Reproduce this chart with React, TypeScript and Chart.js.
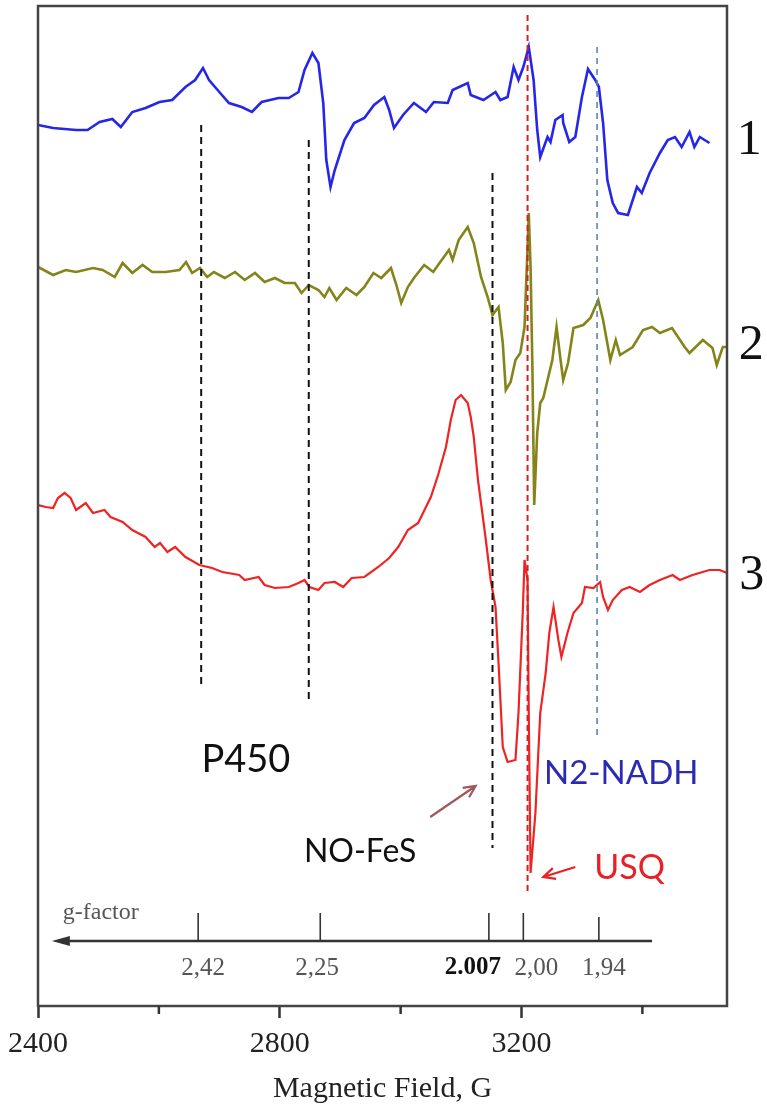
import React, { useEffect, useRef } from 'react';
import { Chart, registerables } from 'chart.js';

Chart.register(...registerables);

// ---- Spectrum 1 (blue) : field (G) / signal (a.u., stacked offset) ----
const blueField = [2400, 2425, 2463, 2482, 2502, 2523, 2537, 2556, 2578, 2601, 2622, 2644, 2660, 2673, 2683, 2700, 2716, 2737, 2754, 2770, 2798, 2815, 2831, 2841, 2854, 2864, 2872, 2877, 2884, 2891, 2907, 2923, 2940, 2956, 2973, 2981, 2989, 3004, 3022, 3042, 3055, 3078, 3086, 3111, 3116, 3137, 3157, 3165, 3177, 3187, 3195, 3203, 3212, 3220, 3226, 3231, 3243, 3248, 3256, 3268, 3269, 3279, 3289, 3300, 3310, 3322, 3328, 3335, 3342, 3351, 3360, 3376, 3391, 3399, 3412, 3429, 3442, 3454, 3465, 3478, 3486, 3495, 3511];
const blueSignal = [88.1, 87.8, 87.6, 87.6, 88.4, 88.7, 87.9, 89.4, 89.8, 90.4, 90.6, 91.9, 92.6, 93.8, 92.6, 91.4, 90.3, 89.9, 89.4, 90.4, 90.8, 90.8, 91.4, 93.6, 95.3, 94.3, 90.3, 84.6, 81.9, 83.6, 86.6, 88.3, 88.8, 90.1, 90.9, 89.6, 87.8, 89.1, 90.3, 89.4, 90.4, 90.3, 91.6, 92.3, 91.1, 90.6, 91.4, 90.6, 90.9, 93.9, 92.6, 93.9, 95.9, 92.6, 87.6, 84.9, 86.9, 86.4, 88.6, 89.1, 88.3, 86.4, 86.9, 90.9, 93.7, 92.6, 91.9, 88.3, 82.6, 80.3, 79.3, 79.1, 81.9, 81.3, 83.3, 85.3, 86.6, 86.9, 85.9, 87.4, 85.9, 86.9, 86.3];

// ---- Spectrum 2 (olive) ----
const oliveField = [2400, 2425, 2446, 2463, 2491, 2507, 2527, 2540, 2556, 2573, 2589, 2611, 2634, 2645, 2655, 2668, 2680, 2691, 2709, 2726, 2742, 2759, 2775, 2792, 2808, 2825, 2836, 2848, 2864, 2874, 2882, 2894, 2910, 2927, 2940, 2955, 2968, 2984, 2993, 3001, 3012, 3022, 3039, 3054, 3062, 3080, 3086, 3096, 3111, 3121, 3133, 3144, 3152, 3162, 3169, 3174, 3182, 3190, 3198, 3205, 3210, 3212, 3215, 3218, 3221, 3226, 3231, 3236, 3251, 3258, 3264, 3269, 3277, 3286, 3302, 3314, 3327, 3335, 3347, 3356, 3363, 3384, 3401, 3416, 3429, 3449, 3470, 3478, 3500, 3516, 3523, 3533, 3540];
const oliveSignal = [73.9, 73.1, 73.6, 73.4, 73.8, 73.6, 72.9, 74.3, 73.3, 74.1, 73.4, 73.4, 73.6, 74.4, 73.3, 73.8, 72.9, 73.4, 72.8, 73.4, 72.6, 73.3, 72.4, 72.8, 72.3, 72.3, 71.3, 72.1, 71.6, 70.9, 71.8, 70.6, 71.8, 71.1, 71.9, 73.3, 72.8, 73.8, 72.1, 70.3, 71.9, 72.8, 74.1, 73.4, 74.1, 75.6, 74.6, 76.6, 77.9, 76.3, 72.9, 70.9, 69.1, 69.9, 66.3, 61.6, 62.4, 64.6, 65.3, 67.9, 75.9, 79.3, 73.9, 63.9, 50.1, 57.3, 60.3, 60.8, 64.6, 67.9, 64.9, 62.6, 64.3, 67.8, 68.1, 68.8, 70.6, 68.6, 64.6, 66.6, 65.1, 65.9, 67.6, 67.9, 67.3, 67.8, 65.9, 65.3, 66.6, 65.8, 64.1, 65.9, 65.9];

// ---- Spectrum 3 (red) ----
const redField = [2400, 2413, 2425, 2433, 2444, 2454, 2463, 2479, 2491, 2510, 2520, 2540, 2556, 2578, 2593, 2602, 2614, 2627, 2644, 2667, 2688, 2705, 2733, 2742, 2765, 2775, 2792, 2815, 2831, 2841, 2849, 2864, 2874, 2891, 2905, 2919, 2940, 2963, 2981, 2996, 3012, 3029, 3050, 3062, 3075, 3083, 3091, 3100, 3111, 3116, 3121, 3128, 3141, 3149, 3157, 3162, 3169, 3177, 3190, 3195, 3202, 3205, 3210, 3212, 3215, 3223, 3231, 3240, 3246, 3253, 3261, 3266, 3276, 3286, 3300, 3305, 3319, 3330, 3335, 3343, 3351, 3366, 3379, 3396, 3412, 3429, 3450, 3462, 3483, 3511, 3528, 3540];
const redSignal = [50.1, 49.9, 49.8, 50.8, 51.3, 50.8, 49.6, 50.3, 49.3, 49.6, 48.9, 48.4, 47.6, 46.9, 45.9, 46.3, 45.4, 45.9, 44.9, 44.1, 43.8, 43.4, 43.1, 42.6, 42.9, 42.1, 41.8, 41.9, 42.3, 42.6, 41.9, 41.6, 42.3, 42.4, 41.9, 42.8, 42.9, 43.9, 44.8, 45.9, 47.6, 48.3, 50.9, 53.1, 55.9, 58.6, 60.6, 61.1, 60.3, 58.9, 56.9, 52.6, 46.6, 42.6, 39.9, 34.3, 25.9, 24.4, 24.6, 29.3, 39.3, 44.6, 42.6, 29.3, 13.3, 19.3, 29.3, 33.3, 37.3, 39.9, 36.6, 34.9, 37.3, 39.3, 40.3, 41.9, 41.8, 42.4, 40.9, 39.6, 40.6, 41.6, 41.9, 41.4, 42.1, 42.6, 43.1, 42.6, 43.1, 43.6, 43.6, 43.3];

// ---- Dashed marker lines (field, top, bottom) ----
const markerFields = [2670, 2848, 3152, 3210, 3325];
const markerTops = [88.1, 86.6, 83.3, 99.1, 95.9];
const markerBottoms = [31.8, 30.3, 15.8, 11.1, 26.8];

// ---- g-factor scale drawn inside the plot ----
const gTickFields = [2665, 2867, 3146, 3203, 3328];
const gTickLabels = ['2,42', '2,25', '2.007', '2,00', '1,94'];
const gAxisRange = [2423, 3416];
const gAxisLevel = 6.5;
const gTickTop = 9.3;

// ---- x axis ----
const xMin = 2400;
const xMax = 3540;
const xMajorTicks = [2400, 2800, 3200];
const xMinorTicks = [2600, 3000, 3400];

const SERIF = '"Liberation Serif", "Times New Roman", serif';
const SANS = 'Lato, "Open Sans", sans-serif';

export default function App() {
  const ref = useRef<HTMLCanvasElement>(null);

  useEffect(() => {
    document.body.style.margin = '0';
    const canvas = ref.current;
    if (!canvas) return;
    const pts = (f: number[], s: number[]) => f.map((x, i) => ({ x, y: s[i] }));

    const markerColors = ['#111111', '#111111', '#111111', '#d42020', '#5b87ad'];
    const markerWidths = [2, 2, 2, 2, 1.6];
    const markerDash = [[7, 5], [7, 5], [7, 5], [6, 4], [6, 5]];

    const datasets: any[] = [];
    markerFields.forEach((f, i) => {
      datasets.push({
        data: [{ x: f, y: markerTops[i] }, { x: f, y: markerBottoms[i] }],
        borderColor: markerColors[i],
        borderWidth: markerWidths[i],
        borderDash: markerDash[i],
        pointRadius: 0,
        order: 0,
      });
    });
    // g-factor axis line and ticks
    datasets.push({
      data: [{ x: gAxisRange[0] + 10, y: gAxisLevel }, { x: gAxisRange[1], y: gAxisLevel }],
      borderColor: '#333333',
      borderWidth: 2.6,
      pointRadius: 0,
      order: 0,
    });
    gTickFields.forEach((f, i) => {
      datasets.push({
        data: [{ x: f, y: gAxisLevel }, { x: f, y: i === 4 ? gTickTop - 0.4 : gTickTop }],
        borderColor: '#333333',
        borderWidth: 1.6,
        pointRadius: 0,
        order: 0,
      });
    });
    datasets.push({ data: pts(blueField, blueSignal), borderColor: '#2626e8', borderWidth: 2.6, pointRadius: 0, tension: 0, order: 2 });
    datasets.push({ data: pts(oliveField, oliveSignal), borderColor: '#84841a', borderWidth: 2.6, pointRadius: 0, tension: 0, order: 1 });
    datasets.push({ data: pts(redField, redSignal), borderColor: '#ee2424', borderWidth: 2.2, pointRadius: 0, tension: 0, order: 2 });

    const overlay = {
      id: 'overlay',
      afterDraw(chart: any) {
        const c = chart.ctx;
        const xs = chart.scales.x;
        const ys = chart.scales.y;
        const X = (v: number) => xs.getPixelForValue(v);
        const Y = (v: number) => ys.getPixelForValue(v);
        const area = chart.chartArea;
        c.save();
        // frame
        c.strokeStyle = '#444444';
        c.lineWidth = 2.5;
        c.strokeRect(area.left, area.top, area.right - area.left, area.bottom - area.top);
        // minor x ticks
        c.strokeStyle = '#333333';
        c.lineWidth = 2.5;
        xMinorTicks.forEach((t) => {
          const px = X(t);
          c.beginPath();
          c.moveTo(px, area.bottom);
          c.lineTo(px, area.bottom + 8);
          c.stroke();
        });
        // arrow head of g-factor axis
        const tipX = X(gAxisRange[0]);
        const tipY = Y(gAxisLevel);
        c.fillStyle = '#333333';
        c.beginPath();
        c.moveTo(tipX, tipY);
        c.lineTo(tipX + 18, tipY - 5);
        c.lineTo(tipX + 18, tipY + 5);
        c.closePath();
        c.fill();

        const text = (s: string, g: number, v: number, font: string, color: string, align: CanvasTextAlign = 'center', dx = 0) => {
          c.font = font;
          c.fillStyle = color;
          c.textAlign = align;
          c.textBaseline = 'middle';
          c.fillText(s, X(g) + dx, Y(v));
        };
        // g-factor labels
        text('g-factor', 2441, 9.3, `24px ${SERIF}`, '#555555', 'left');
        const gOffsets = [5, -3, -16, 13, 5];
        gTickLabels.forEach((s, i) => {
          const bold = s === '2.007';
          text(s, gTickFields[i], 3.8, `${bold ? 'bold ' : ''}25px ${SERIF}`, bold ? '#111111' : '#555555', 'center', gOffsets[i]);
        });
        // species annotations
        text('P450', 2744, 24.6, `38px ${SANS}`, '#111111');
        text('N2-NADH', 3365, 23.3, `33px ${SANS}`, '#2a2ab4');
        text('NO-FeS', 2933, 15.4, `32px ${SANS}`, '#111111');
        text('USQ', 3379, 13.8, `34px ${SANS}`, '#e82028');
        // arrows
        const arrow = (g1: number, v1: number, g2: number, v2: number, color: string) => {
          const x1 = X(g1), y1 = Y(v1), x2 = X(g2), y2 = Y(v2);
          const a = Math.atan2(y2 - y1, x2 - x1);
          c.strokeStyle = color;
          c.lineWidth = 2.2;
          c.beginPath();
          c.moveTo(x1, y1);
          c.lineTo(x2, y2);
          c.moveTo(x2 - 13 * Math.cos(a - 0.45), y2 - 13 * Math.sin(a - 0.45));
          c.lineTo(x2, y2);
          c.lineTo(x2 - 13 * Math.cos(a + 0.45), y2 - 13 * Math.sin(a + 0.45));
          c.stroke();
        };
        arrow(3049, 18.9, 3124, 22.0, '#a0585c');
        arrow(3289, 13.9, 3236, 12.9, '#e82028');
        // spectrum numbers
        text('1', 3577, 86.5, `50px ${SERIF}`, '#111111');
        text('2', 3580, 66.0, `50px ${SERIF}`, '#111111');
        text('3', 3581, 43.0, `50px ${SERIF}`, '#111111');
        c.restore();
      },
    };

    const chart = new Chart(canvas, {
      type: 'line',
      data: { datasets },
      options: {
        animation: false,
        responsive: false,
        devicePixelRatio: 1,
        layout: { padding: { left: 35, right: 40, top: 6, bottom: 0 } },
        plugins: { legend: { display: false }, tooltip: { enabled: false } },
        scales: {
          x: {
            type: 'linear',
            min: xMin,
            max: xMax,
            afterFit: (scale: any) => {
              scale.height = 105;
            },
            border: { display: false },
            grid: {
              drawOnChartArea: false,
              drawTicks: true,
              tickLength: 12,
              tickWidth: 2.5,
              tickColor: (ctx: any) => (ctx.tick && xMajorTicks.includes(ctx.tick.value) ? '#333333' : 'rgba(0,0,0,0)'),
            },
            ticks: {
              stepSize: 200,
              autoSkip: false,
              maxRotation: 0,
              includeBounds: false,
              padding: 8,
              color: '#222222',
              font: { family: SERIF, size: 30 },
              callback: (v: any) => (xMajorTicks.includes(Number(v)) ? String(v) : ''),
            },
            title: {
              display: true,
              text: 'Magnetic Field, G',
              color: '#222222',
              font: { family: SERIF, size: 30 },
              padding: { top: 0, bottom: 4 },
            },
          },
          y: { type: 'linear', min: 0, max: 100, display: false },
        },
      },
      plugins: [overlay],
    });
    return () => chart.destroy();
  }, []);

  return (
    <div style={{ width: 767, height: 1111, background: '#ffffff' }}>
      <canvas ref={ref} width={767} height={1111} style={{ display: 'block' }} />
    </div>
  );
}
